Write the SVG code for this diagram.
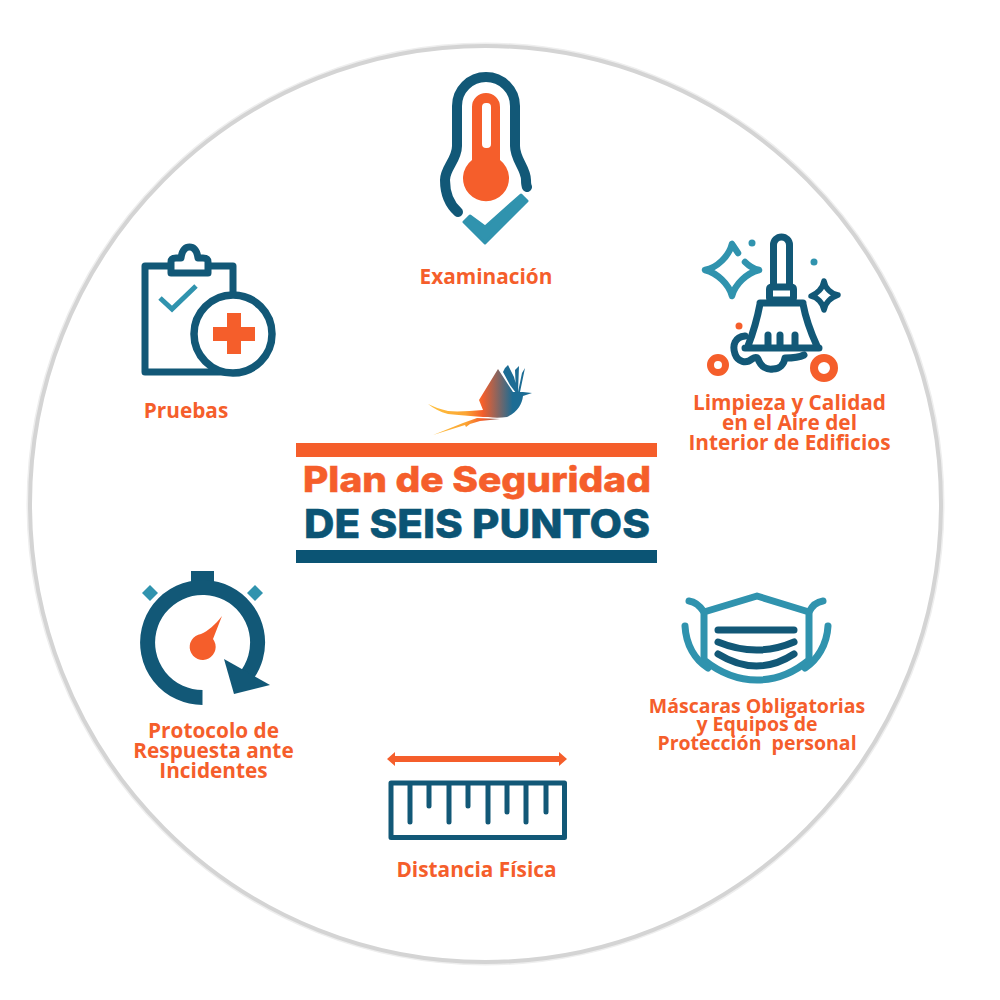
<svg xmlns="http://www.w3.org/2000/svg" width="1000" height="1000" viewBox="0 0 1000 1000">
<defs>
<style>
.n{fill:none;stroke:#125877;stroke-linecap:round;stroke-linejoin:round}
.t{fill:none;stroke:#3093AE;stroke-linecap:round;stroke-linejoin:round}
.of{fill:#F55E2B}.nf{fill:#125877}.tf{fill:#3093AE}
.l{font-family:"Open Sans","Liberation Sans",sans-serif;font-weight:700;font-size:20.8px;fill:#F55E2B;text-anchor:middle;white-space:pre}
.m{font-size:19.5px}
.h{font-family:Inter,"Liberation Sans",sans-serif;font-weight:800;stroke-width:0.5}
</style>
<linearGradient id="bird" gradientUnits="userSpaceOnUse" x1="428" y1="0" x2="522" y2="0">
<stop offset="0" stop-color="#FFC23F"/><stop offset="0.4" stop-color="#FBA534"/><stop offset="0.58" stop-color="#F55E2B"/><stop offset="0.9" stop-color="#1C6C94"/>
</linearGradient>
</defs>
<rect width="1000" height="1000" fill="#fff"/>
<ellipse id="ring-soft" cx="485.500" cy="504" rx="455.500" ry="458" fill="none" stroke="#EEEEEE" stroke-width="7"/>
<ellipse id="ring" cx="485.500" cy="504" rx="455.500" ry="458" fill="#fff" stroke="#D4D4D4" stroke-width="4"/>

<g id="examinacion">
<path class="n" stroke-width="10" d="M458 212C449 204 445 192 445 180C445 168 457 160 457 146V106A29 29 0 0 1 515 106V146C515 160 526 168 526 180C526 183 526 185 527 187"/>
<path class="of" fill-rule="evenodd" d="M472 107A14 14 0 0 1 500 107V160A23 23 0 1 1 472 160ZM482 107V144Q482 148 486 148H487Q491 148 491 144V107Q491 103 487 103H486Q482 103 482 107Z"/>
<path class="tf" stroke="#3093AE" stroke-width="3" stroke-linejoin="round" d="M464 222L470 216L485 227L521 195L527 201L485 243Z"/>
<text class="l" x="486" y="284">Examinación</text>
</g>

<g id="limpieza">
<path class="n" stroke-width="7" d="M773.500 285V245A8 8 0 0 1 789.500 245V285"/>
<rect class="n" x="769.500" y="287" width="24" height="13" rx="2" stroke-width="7"/>
<path class="n" stroke-width="7" d="M760 304C757 320 753 333 748 346M803 304C806 320 811 333 817 346M760 303H803M745 348H819M768 347V335M780 347V335M795 347V335"/>
<path class="n" stroke-width="7" d="M745 336C735 337 732 345 735 354C738 362 746 364 752 359C755 357 757 357 758 359C761 367 767 370 773 369C780 369 784 364 785 358C790 358 798 358 804 355"/>
<circle cx="718" cy="365" r="7.500" fill="none" stroke="#F55E2B" stroke-width="7"/>
<circle cx="824" cy="368" r="10" fill="none" stroke="#F55E2B" stroke-width="8"/>
<circle class="of" cx="739" cy="326" r="3.500"/>
<circle class="tf" cx="752" cy="243" r="3.500"/>
<circle class="tf" cx="814" cy="262" r="3.500"/>
<path class="t" stroke-width="6.500" d="M738 253C736 250 734 247 732 244C729 256 717 268 705 270C717 273 729 284 732 296C735 284 747 273 759 270C754 269 749 266 745 262"/>
<path class="n" stroke-width="5.500" d="M824 281C825 288 831 294 838 295C831 297 825 303 824 310C823 303 817 297 811 296C817 294 823 288 824 281Z"/>
<text class="l" x="789.500" y="410">Limpieza y Calidad</text>
<text class="l" x="789.500" y="430">en el Aire del</text>
<text class="l" x="789.500" y="450">Interior de Edificios</text>
</g>

<g id="pruebas">
<path class="n" stroke-width="7" d="M233 292V266H209M170 266H145V372H233"/>
<path class="n" stroke-width="7" d="M171 273V262Q171 258 176 258H181C182 251 185 247 189.500 247C194 247 197 251 198 258H203Q208 258 208 262V273Z"/>
<path class="t" stroke-width="5" style="stroke-linecap:butt;stroke-linejoin:miter" d="M160 298L172 309L196 286"/>
<circle cx="233" cy="334" r="39" fill="#fff" stroke="#125877" stroke-width="7.500"/>
<path class="of" d="M227 313H241V327H255V341H241V354H227V341H213V327H227Z"/>
<text class="l" x="186" y="418">Pruebas</text>
</g>

<g id="titulo">
<path fill="url(#bird)" d="M428 404C434 407 440 409 448 411C458 412 470 411 483 410L479 400L498 369L513 392L523 392L532 393L523 396C522 404 518 412 507 417C500 418 494 418 488 417L483 417C470 416 458 415 448 414C440 412 433 408 428 404Z"/>
<path fill="url(#bird)" d="M433 435L463 423L477 418L500 419L480 421L470 424L466 427L465 425Z"/>
<path fill="#1C6C94" d="M505 368L508 365L514 377L518 392L516 393L510 385L503 372ZM515 370L519 366L518 392L516 392ZM522 373L525 368L520 392L518 392Z"/>
<rect class="of" x="296" y="443" width="361" height="14"/>
<text class="h of" stroke="#F55E2B" x="303" y="492" font-size="35" textLength="348" lengthAdjust="spacingAndGlyphs">Plan de Seguridad</text>
<text class="h" stroke="#0B5474" x="304" y="538" font-size="40" fill="#0B5474" textLength="346" lengthAdjust="spacingAndGlyphs">DE SEIS PUNTOS</text>
<rect x="296" y="550" width="361" height="13" fill="#0B5474"/>
</g>

<g id="protocolo">
<rect class="nf" x="191" y="571" width="23" height="16"/>
<path class="n" stroke-width="15" style="stroke-linecap:butt" d="M202.500 697.500A55 55 0 1 1 244.600 678"/>
<path class="nf" d="M224 659L270 685L234 694Z"/>
<path class="tf" d="M150 585L158 593L150 601L142 593Z"/>
<path class="tf" d="M255 585L263 593L255 601L247 593Z"/>
<path class="of" d="M222 616L213 639A13 13 0 1 1 201 634C208 631 215 625 222 616Z"/>
<text class="l" x="213.500" y="738">Protocolo de</text>
<text class="l" x="213.500" y="758">Respuesta ante</text>
<text class="l" x="213.500" y="778">Incidentes</text>
</g>

<g id="mascaras">
<path class="t" stroke-width="7" d="M704 612L757 596L809 612V660Q785 680 757 680Q729 680 704 660Z"/>
<path class="t" stroke-width="7" d="M689 601C696 602 700 606 704 612M823 601C816 602 812 606 809 612"/>
<path class="t" stroke-width="7" d="M685 626C686 645 695 660 708 668M828 626C827 645 817 660 805 668"/>
<path class="n" stroke-width="7" d="M718 630H794M718 642Q757 658 794 642M718 654Q757 678 794 654"/>
<text class="l m" x="757" y="713">Máscaras Obligatorias</text>
<text class="l m" x="757" y="731">y Equipos de</text>
<text class="l m" x="757" y="750">Protección  personal</text>
</g>

<g id="distancia">
<path class="of" d="M387 759L395 752V756H559V752L567 759L559 766V762H395V766Z"/>
<rect class="n" x="391" y="783" width="173.500" height="54.500" stroke-width="5"/>
<path class="n" stroke-width="5" d="M410 785V822M429 785V806M449 785V822M468 785V806M488 785V822M507 785V812M526 785V822M546 785V812"/>
<text class="l" x="476.500" y="877">Distancia Física</text>
</g>
</svg>
